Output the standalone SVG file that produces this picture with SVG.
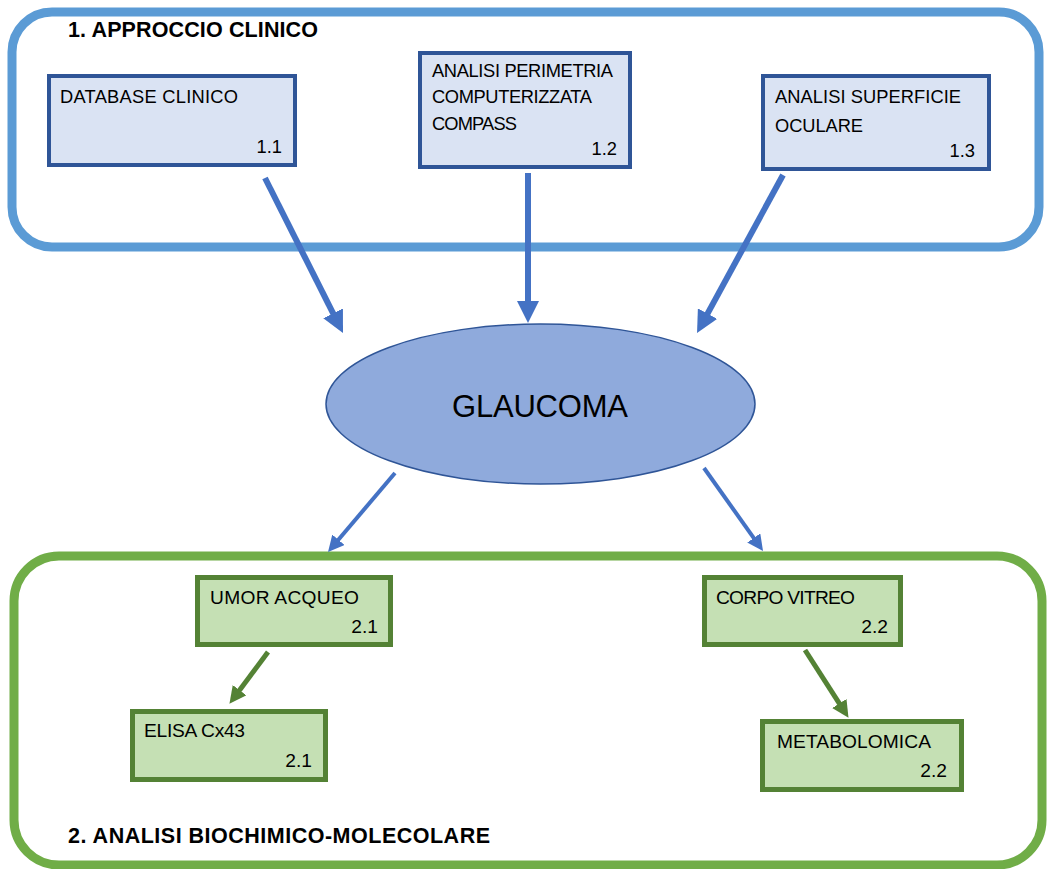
<svg xmlns="http://www.w3.org/2000/svg" width="1049" height="869" viewBox="0 0 1049 869">
<style>
  .t { font-family: "Liberation Sans", Arial, sans-serif; font-size: 18.3px; fill: #000; }
  .tl { font-family: "Liberation Sans", Arial, sans-serif; font-size: 19.2px; fill: #000; }
  .title { font-family: "Liberation Sans", Arial, sans-serif; font-size: 21.5px; font-weight: bold; fill: #000; }
  .bbox { fill: #DAE3F3; stroke: #2F5597; stroke-width: 4; }
  .gbox { fill: #C5E0B4; stroke: #548235; stroke-width: 5; }
  .ab { stroke: #4472C4; fill: none; }
  .ag { stroke: #548235; fill: none; stroke-width: 5; }
</style>
<defs>
  <marker id="headBig" markerUnits="userSpaceOnUse" viewBox="0 0 22 22" markerWidth="22" markerHeight="22" refX="2" refY="11" orient="auto">
    <path d="M0,0 L22,11 L0,22 z" fill="#4472C4"/>
  </marker>
  <marker id="headSmall" markerUnits="userSpaceOnUse" viewBox="0 0 16 16" markerWidth="16" markerHeight="16" refX="2" refY="8" orient="auto">
    <path d="M0,0 L16,8 L0,16 z" fill="#4472C4"/>
  </marker>
  <marker id="headGreen" markerUnits="userSpaceOnUse" viewBox="0 0 17 17" markerWidth="17" markerHeight="17" refX="2" refY="8.5" orient="auto">
    <path d="M0,0 L17,8.5 L0,17 z" fill="#548235"/>
  </marker>
</defs>

<g id="container-clinico">
  <rect x="12" y="12" width="1027" height="235" rx="40" ry="40" fill="none" stroke="#5B9BD5" stroke-width="9"/>
  <text class="title" x="68" y="37" textLength="250">1. APPROCCIO CLINICO</text>
</g>
<g id="container-biochimico">
  <rect x="14" y="556" width="1028" height="309" rx="45" ry="45" fill="none" stroke="#70AD47" stroke-width="9"/>
  <text class="title" x="68" y="843" textLength="422">2. ANALISI BIOCHIMICO-MOLECOLARE</text>
</g>

<g id="connectors">
  <line class="ab" stroke-width="6" x1="265" y1="178" x2="334" y2="315.1" marker-end="url(#headBig)"/>
  <line class="ab" stroke-width="6" x1="528" y1="173" x2="528" y2="303" marker-end="url(#headBig)"/>
  <line class="ab" stroke-width="6" x1="783" y1="175" x2="706.6" y2="315.4" marker-end="url(#headBig)"/>
  <line class="ab" stroke-width="4" x1="395" y1="473" x2="337.1" y2="541.3" marker-end="url(#headSmall)"/>
  <line class="ab" stroke-width="4" x1="704" y1="468" x2="754.9" y2="539.6" marker-end="url(#headSmall)"/>
  <line class="ag" x1="268" y1="652" x2="238.4" y2="691.8" marker-end="url(#headGreen)"/>
  <line class="ag" x1="805" y1="650" x2="840.4" y2="705.2" marker-end="url(#headGreen)"/>
</g>

<g id="node-1-1">
  <rect class="bbox" x="49" y="76" width="246" height="89"/>
  <text class="t" x="60" y="103" textLength="178">DATABASE CLINICO</text>
  <text class="t" x="282" y="153" text-anchor="end">1.1</text>
</g>
<g id="node-1-2">
  <rect class="bbox" x="420" y="53" width="210" height="114"/>
  <text class="t" x="432" y="77" textLength="181">ANALISI PERIMETRIA</text>
  <text class="t" x="432" y="103" textLength="160">COMPUTERIZZATA</text>
  <text class="t" x="432" y="130" textLength="85">COMPASS</text>
  <text class="t" x="617" y="155" text-anchor="end">1.2</text>
</g>
<g id="node-1-3">
  <rect class="bbox" x="763" y="76" width="226" height="93"/>
  <text class="t" x="775" y="103" textLength="186">ANALISI SUPERFICIE</text>
  <text class="t" x="775" y="132" textLength="88">OCULARE</text>
  <text class="t" x="975" y="157" text-anchor="end">1.3</text>
</g>
<g id="node-glaucoma">
  <ellipse cx="540.5" cy="404" rx="214.5" ry="80" fill="#8FAADC" stroke="#2F5597" stroke-width="1.5"/>
  <text x="540" y="417" text-anchor="middle" font-family="Liberation Sans, Arial, sans-serif" font-size="31" textLength="176">GLAUCOMA</text>
</g>
<g id="node-2-1-umor">
  <rect class="gbox" x="197.5" y="577.5" width="193" height="67"/>
  <text class="tl" x="210" y="604" textLength="149">UMOR ACQUEO</text>
  <text class="tl" x="378" y="633" text-anchor="end">2.1</text>
</g>
<g id="node-2-1-elisa">
  <rect class="gbox" x="132.5" y="711.5" width="193" height="68"/>
  <text class="tl" x="144" y="737" textLength="101">ELISA Cx43</text>
  <text class="tl" x="312" y="767" text-anchor="end">2.1</text>
</g>
<g id="node-2-2-corpo">
  <rect class="gbox" x="704.5" y="577.5" width="196" height="67"/>
  <text class="tl" x="716" y="604" textLength="139">CORPO VITREO</text>
  <text class="tl" x="888" y="633" text-anchor="end">2.2</text>
</g>
<g id="node-2-2-meta">
  <rect class="gbox" x="762.5" y="721.5" width="199" height="68"/>
  <text class="tl" x="777" y="748" textLength="154">METABOLOMICA</text>
  <text class="tl" x="947" y="777" text-anchor="end">2.2</text>
</g>
</svg>
